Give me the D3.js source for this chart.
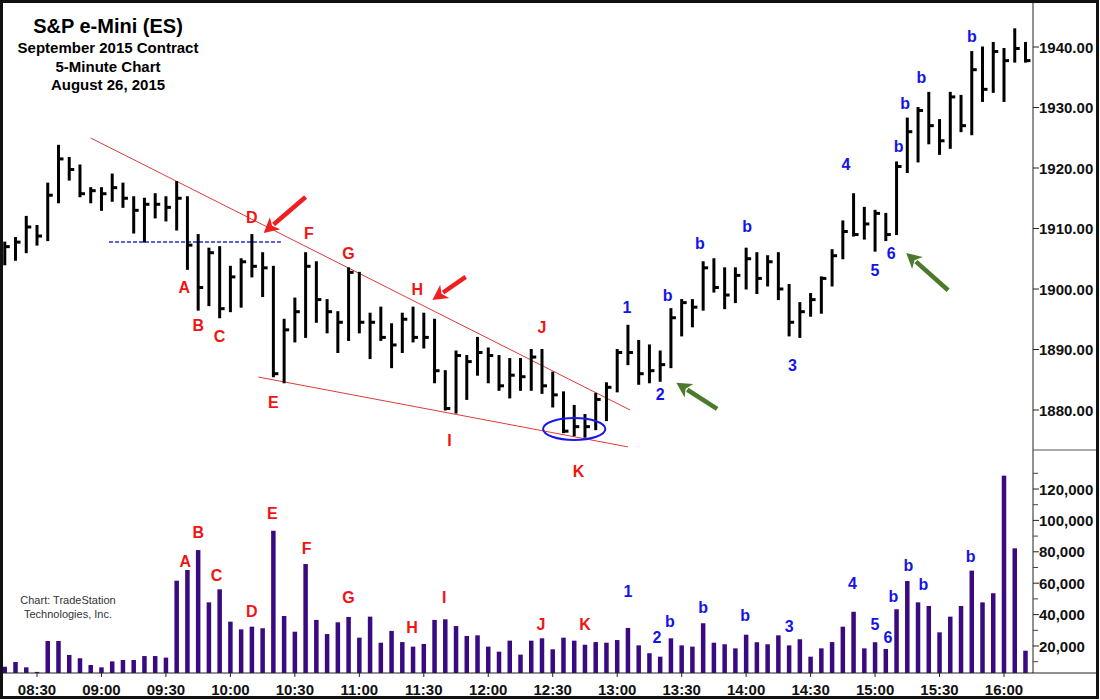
<!DOCTYPE html>
<html><head><meta charset="utf-8">
<script src="https://cdn.jsdelivr.net/npm/d3@7"></script>
<style>body{margin:0;background:#fff}svg{display:block;font-family:"Liberation Sans",Arial,Helvetica,sans-serif}</style>
</head><body><svg id="c" width="1100" height="700"></svg>
<script>
const times = ["08:15","08:20","08:25","08:30","08:35","08:40","08:45","08:50","08:55","09:00",
"09:05","09:10","09:15","09:20","09:25","09:30","09:35","09:40","09:45","09:50",
"09:55","10:00","10:05","10:10","10:15","10:20","10:25","10:30","10:35","10:40",
"10:45","10:50","10:55","11:00","11:05","11:10","11:15","11:20","11:25","11:30",
"11:35","11:40","11:45","11:50","11:55","12:00","12:05","12:10","12:15","12:20",
"12:25","12:30","12:35","12:40","12:45","12:50","12:55","13:00","13:05","13:10",
"13:15","13:20","13:25","13:30","13:35","13:40","13:45","13:50","13:55","14:00",
"14:05","14:10","14:15","14:20","14:25","14:30","14:35","14:40","14:45","14:50",
"14:55","15:00","15:05","15:10","15:15","15:20","15:25","15:30","15:35","15:40",
"15:45","15:50","15:55","16:00","16:05","16:10"];
const high = [1907.75,1908.5,1912,1910.5,1917.5,1923.75,1921.75,1920.5,1916.75,1916.75,
1919,1917.5,1915.25,1915,1915.75,1915.25,1917.75,1915.25,1909,1906.75,
1907,1903.75,1905,1909,1906,1903.75,1895,1898.5,1906,1904.5,
1898.25,1896.25,1903.5,1902.75,1896,1897,1894.25,1896,1897,1896,
1895,1886.5,1889.75,1889,1892,1890.25,1889,1888.5,1888.5,1890,
1890,1886.25,1883,1880.75,1879.25,1882.75,1884.5,1890,1894,1891.5,
1890.75,1889.75,1896.75,1898.25,1898.25,1904.5,1905,1903.5,1903.5,1906.75,
1906,1905.5,1906,1900.75,1897.75,1899.25,1902,1906.5,1911.25,1915.75,
1913.5,1913,1912.5,1921,1928.25,1930,1932.5,1928,1932.5,1932,
1939.25,1940,1940.75,1939.75,1943,1940.75];
const low = [1904,1904.75,1906,1907.25,1908,1914.25,1918,1915.25,1914.25,1913,
1914.5,1913.5,1909.25,1907.75,1911.75,1911.25,1909.75,1903.25,1896.5,1897.25,
1895.25,1896.25,1897,1902,1898.75,1885.5,1884.5,1891.25,1892,1894.5,
1892.75,1889.5,1891.5,1892.75,1888.5,1891.5,1887,1889.5,1891.25,1890.25,
1884.5,1880,1879.5,1881.75,1885.75,1884.5,1883.25,1882,1883.25,1883.25,
1882.75,1880.5,1876.25,1875.75,1875.5,1876.75,1878.25,1883,1887.5,1884.25,
1884.5,1884.75,1887,1892.25,1893.75,1896.5,1899.5,1896.75,1897.75,1900,
1899.25,1900.5,1898.25,1892.25,1892,1895.5,1896,1900.5,1905,1908.75,
1908.25,1906.25,1908,1909,1919.25,1921,1924,1922.25,1923.25,1926,
1925.5,1931,1932.5,1931,1937.5,1937.5];
const close = [1907,1907.75,1910.25,1908.75,1915.5,1921.5,1919.75,1915.75,1916.25,1915.75,
1916.75,1915,1913,1914,1914,1913.5,1915,1907.25,1900.25,1906,
1896.75,1902,1904.5,1903.75,1903.5,1886,1893.25,1896.25,1903.75,1898.25,
1896.25,1894.5,1902.75,1894.5,1894.5,1892,1890.75,1895,1892,1892,
1886.5,1880.25,1889,1888,1889.5,1889,1884,1885.75,1885.5,1888.75,
1884,1882.5,1876.5,1877.25,1877.25,1881.75,1883.75,1889.5,1889.5,1886,
1886.5,1887.5,1895.25,1897.75,1897,1903.5,1900.25,1899,1902.25,1905,
1901.75,1904.5,1900,1894.5,1896.25,1898.25,1901.75,1905.5,1909.5,1909,
1910.75,1912.5,1909,1920.25,1926,1929.5,1927,1924.5,1931.75,1927,
1936.25,1933,1939.25,1937.75,1939.75,1937.75];
const volume = [6800,9800,6400,3500,23200,23200,14300,12200,7900,6400,
10200,11100,11100,13600,13600,12600,61600,68400,81100,47800,
56100,35500,30600,32300,31300,93400,39100,29100,72200,36600,
27600,35100,38500,25300,38700,22100,29600,22500,19600,21300,
36600,37000,32700,26400,26800,19600,16400,23400,14500,23400,
24900,17900,25300,23400,20800,22500,22100,23800,31500,20400,
15400,13200,24900,20400,19600,34500,22100,21100,18500,27200,
22400,21100,26800,20400,24300,13200,18500,22500,32300,41800,
18500,22400,18100,43400,61400,47800,45500,28700,38700,45500,
68000,47800,53600,128500,82200,17000];
const timeTicks = ["08:30","09:00","09:30","10:00","10:30","11:00","11:30","12:00","12:30","13:00","13:30","14:00","14:30","15:00","15:30","16:00"];
const priceTicks = [1880,1890,1900,1910,1920,1930,1940];
const volumeTicks = [20000,40000,60000,80000,100000,120000];
const volumeMinorTicks = [10000,30000,50000,70000,90000,110000,130000];
const titleLines = ["S&P e-Mini (ES)","September 2015 Contract","5-Minute Chart","August 26, 2015"];
const creditLines = ["Chart: TradeStation","Technologies, Inc."];
// price-panel annotations: bar index, price
const priceLabelText = ["A","B","C","D","E","F","G","H","I","J","K","1","2","b","b","b","3","4","5","6","b","b","b","b"];
const priceLabelIdx  = [16.7,18.0,20.0,23.0,25.0,28.3,32.0,38.4,41.4,50.0,53.4,57.9,61.0,61.7,64.7,69.1,73.3,78.3,81.0,82.5,83.2,83.8,85.3,90.0];
const priceLabelPx   = [1900.3,1894.0,1892.1,1911.9,1881.2,1909.1,1905.8,1900.0,1874.9,1893.7,1869.9,1897.0,1882.5,1899.0,1907.6,1910.4,1887.4,1920.5,1903.1,1905.8,1923.5,1930.7,1934.9,1941.7];
// volume-panel annotations: bar index, volume
const volLabelText = ["A","B","C","D","E","F","G","H","I","J","K","1","2","b","b","b","3","4","5","6","b","b","b","b"];
const volLabelIdx  = [16.8,18.0,19.7,23.0,24.9,28.1,32.0,37.9,40.9,49.9,54.0,58.0,60.7,61.9,65.0,68.9,73.0,78.9,81.0,82.2,82.7,84.1,85.5,89.9];
const volLabelVal  = [74100,92600,64600,41700,104700,81800,50600,31500,50600,33400,33400,54400,25700,35300,44800,39700,32700,60100,33400,25700,51800,71000,58900,76700];
// trend lines [idx1, price1, idx2, price2]
const upperTrend = [8.0,1924.96,58.2,1880.0];
const lowerTrend = [23.6,1885.45,58.0,1873.9];
const dashedLevel = [9.7,25.7,1907.77];
const ellipse = [53.0,1876.86,2.9,1.8];
// arrows [tailIdx, tailPrice, headIdx, headPrice]
const redArrows = [[28.0,1915.2,24.1,1909.26],[42.9,1902.0,39.8,1898.2]];
const greenArrows = [[66.3,1880.2,62.5,1884.5],[87.8,1899.8,83.9,1905.95]];

const RED = "#f01414", BLUE = "#1414e6", GREEN = "#4a7a2a", VOLC = "#3a0a80";
const svg = d3.select("#c");
const toMin = s => { const [h,m] = s.split(":").map(Number); return h*60+m; };
const x = d3.scaleLinear().domain([toMin("08:30"), toMin("16:00")]).range([37, 1004]);
const xi = d3.scaleLinear().domain([0, times.length-1]).range([x(toMin(times[0])), x(toMin(times[times.length-1]))]);
const y = d3.scaleLinear().domain([1880, 1940]).range([410, 47]);
const yv = d3.scaleLinear().domain([0, 120000]).range([677.4, 489]);
const axisX = 1033, baseY = 673, divY = 450;

// title
const ty = [33, 53, 72, 90], tsz = [20, 15, 15, 15];
titleLines.forEach((t,k) => svg.append("text").attr("x",108).attr("y",ty[k]).attr("text-anchor","middle")
  .attr("font-size",tsz[k]).attr("font-weight","bold").attr("fill","#000").text(t));
creditLines.forEach((t,k) => svg.append("text").attr("x",68).attr("y",[604,618][k]).attr("text-anchor","middle")
  .attr("font-size",11).attr("fill","#333").text(t));

// trend lines
const g = svg.append("g");
g.append("line").attr("x1",xi(upperTrend[0])).attr("y1",y(upperTrend[1])).attr("x2",xi(upperTrend[2])).attr("y2",y(upperTrend[3]))
  .attr("stroke","#e03a3a").attr("stroke-width",1);
g.append("line").attr("x1",xi(lowerTrend[0])).attr("y1",y(lowerTrend[1])).attr("x2",xi(lowerTrend[2])).attr("y2",y(lowerTrend[3]))
  .attr("stroke","#e03a3a").attr("stroke-width",1);
g.append("line").attr("x1",xi(dashedLevel[0])).attr("x2",xi(dashedLevel[1])).attr("y1",y(dashedLevel[2])).attr("y2",y(dashedLevel[2]))
  .attr("stroke","#2a2ad8").attr("stroke-width",1.5).attr("stroke-dasharray","4,2");

// price bars (HLC)
const bars = svg.append("g");
times.forEach((t,i) => {
  const cx = x(toMin(t));
  bars.append("line").attr("x1",cx).attr("x2",cx).attr("y1",y(high[i])-0.5).attr("y2",y(low[i])+0.5)
    .attr("stroke","#000").attr("stroke-width",3);
  bars.append("line").attr("x1",cx).attr("x2",cx+5).attr("y1",y(close[i])).attr("y2",y(close[i]))
    .attr("stroke","#000").attr("stroke-width",3);
});

// ellipse
svg.append("ellipse").attr("cx",xi(ellipse[0])).attr("cy",y(ellipse[1]))
  .attr("rx",xi(ellipse[0]+ellipse[2])-xi(ellipse[0])).attr("ry",y(ellipse[1]-ellipse[3])-y(ellipse[1]))
  .attr("fill","none").attr("stroke","#1a1ae6").attr("stroke-width",2);

// arrows
function arrow(a, color){
  const x1 = xi(a[0]), y1 = y(a[1]), x2 = xi(a[2]), y2 = y(a[3]);
  const dx = x2-x1, dy = y2-y1, L = Math.hypot(dx,dy), ux = dx/L, uy = dy/L;
  const hl = 15, hw = 8;
  const bx = x2-ux*hl, by = y2-uy*hl;
  svg.append("line").attr("x1",x1).attr("y1",y1).attr("x2",bx+ux*2).attr("y2",by+uy*2)
    .attr("stroke",color).attr("stroke-width",4.5);
  svg.append("path").attr("d",`M${x2},${y2}L${bx-uy*hw},${by+ux*hw}L${bx+ux*4},${by+uy*4}L${bx+uy*hw},${by-ux*hw}Z`)
    .attr("fill",color);
}
redArrows.forEach(a => arrow(a, "#f01e1e"));
greenArrows.forEach(a => arrow(a, GREEN));

// price labels
const isLetter = s => /[A-Z]/.test(s);
priceLabelText.forEach((t,k) => svg.append("text").attr("x",xi(priceLabelIdx[k])).attr("y",y(priceLabelPx[k]))
  .attr("text-anchor","middle").attr("dominant-baseline","central").attr("font-size",16).attr("font-weight","bold")
  .attr("fill", isLetter(t) ? RED : BLUE).text(t));

// volume bars
svg.append("g").selectAll("rect").data(volume).join("rect")
  .attr("x",(d,i) => x(toMin(times[i]))-2.25).attr("width",4.5)
  .attr("y",d => yv(d)).attr("height",d => Math.max(0, baseY - yv(d)))
  .attr("fill",VOLC);

volLabelText.forEach((t,k) => svg.append("text").attr("x",xi(volLabelIdx[k])).attr("y",yv(volLabelVal[k]))
  .attr("text-anchor","middle").attr("dominant-baseline","central").attr("font-size",16).attr("font-weight","bold")
  .attr("fill", isLetter(t) ? RED : BLUE).text(t));

// axes
const ax = svg.append("g");
ax.append("line").attr("x1",axisX).attr("x2",axisX).attr("y1",0).attr("y2",baseY).attr("stroke","#222").attr("stroke-width",1);
ax.append("line").attr("x1",axisX).attr("x2",1098).attr("y1",divY).attr("y2",divY).attr("stroke","#555").attr("stroke-width",1);
ax.append("line").attr("x1",0).attr("x2",1098).attr("y1",baseY).attr("y2",baseY).attr("stroke","#222").attr("stroke-width",1);

priceTicks.forEach(p => {
  ax.append("line").attr("x1",axisX).attr("x2",axisX+6).attr("y1",y(p)).attr("y2",y(p)).attr("stroke","#222");
  ax.append("text").attr("x",axisX+6).attr("y",y(p)).attr("dominant-baseline","central").attr("font-size",15)
    .attr("font-weight","bold").attr("fill","#111").text(d3.format(".2f")(p));
});
volumeTicks.forEach(v => {
  ax.append("line").attr("x1",axisX).attr("x2",axisX+6).attr("y1",yv(v)).attr("y2",yv(v)).attr("stroke","#222");
  ax.append("text").attr("x",axisX+6).attr("y",yv(v)).attr("dominant-baseline","central").attr("font-size",15)
    .attr("font-weight","bold").attr("fill","#111").text(d3.format(",")(v));
});
volumeMinorTicks.forEach(v => {
  ax.append("line").attr("x1",axisX).attr("x2",axisX+5).attr("y1",yv(v)).attr("y2",yv(v)).attr("stroke","#444");
});
timeTicks.forEach(t => {
  const px = x(toMin(t));
  ax.append("line").attr("x1",px).attr("x2",px).attr("y1",baseY).attr("y2",baseY+4).attr("stroke","#222");
  ax.append("text").attr("x",px).attr("y",695).attr("text-anchor","middle").attr("font-size",15)
    .attr("font-weight","bold").attr("fill","#111").text(t);
});

// frame
svg.append("rect").attr("x",1.5).attr("y",1.5).attr("width",1096).attr("height",696)
  .attr("fill","none").attr("stroke","#111").attr("stroke-width",3);
</script></body></html>
